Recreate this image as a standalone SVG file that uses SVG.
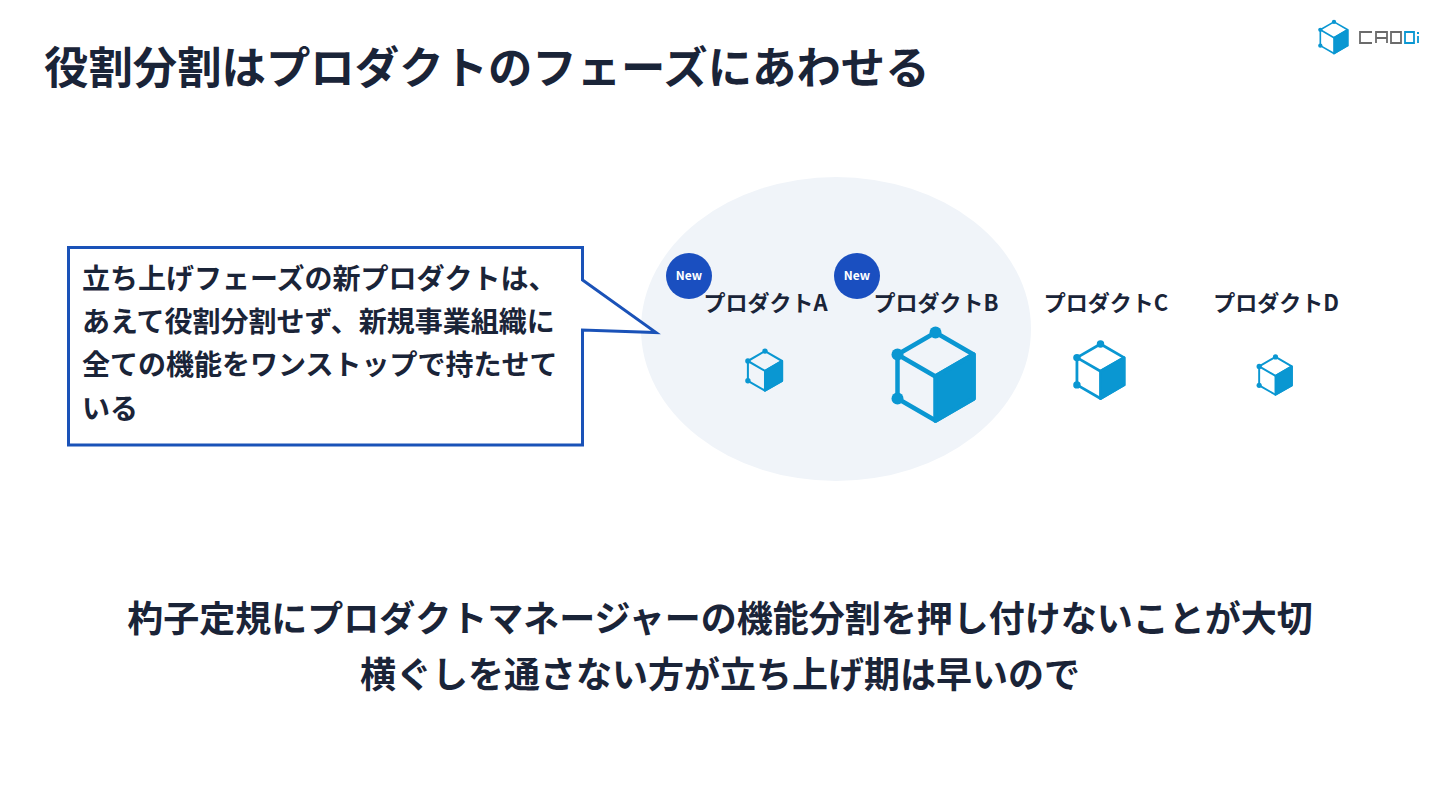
<svg xmlns="http://www.w3.org/2000/svg" width="1440" height="810" viewBox="0 0 1440 810">
<style>
text{font-family:"Noto Sans CJK JP","Noto Sans",sans-serif;font-weight:700;fill:#1a2438}
.title{font-size:44.4px}
.call{font-size:28px}
.bottom{font-size:36px;text-anchor:middle}
.prod{font-size:22px;text-anchor:middle}
.new{font-size:12px;fill:#fff;text-anchor:middle}
.badge{fill:#1a4fc0}
</style>
<defs>
<g id="cube">
<path d="M0-42 38-20V24L0 46-38 24V-20Z" fill="none" stroke="#0a97d2" stroke-width="4.500" stroke-linejoin="round"/>
<path d="M-38-20 0 2 38-20" fill="none" stroke="#0a97d2" stroke-width="4.500" stroke-linejoin="round"/>
<path d="M0 2 38-20V24L0 46Z" fill="#0a97d2" stroke="#0a97d2" stroke-width="4.500" stroke-linejoin="round"/>
<circle cx="0" cy="-42" r="6" fill="#0a97d2"/>
<circle cx="-38" cy="-20" r="6" fill="#0a97d2"/>
<circle cx="-38" cy="24" r="6" fill="#0a97d2"/>
</g>
</defs>
<rect width="1440" height="810" fill="#fff"/>
<g id="logo">
<use href="#cube" transform="translate(1334 37) scale(.36)"/>
<g fill="none" stroke-width="1.800">
<path d="M1372 32H1360V43H1372M1376 43V32H1387V43M1376 38H1387" stroke="#6b6b6b"/>
<path d="M1391 32H1401V43H1391Z" stroke="#6b6b6b"/>
<path d="M1405 32H1414V43H1405Z" stroke="#0a97d2"/>
<path d="M1418 36V43" stroke="#0a97d2"/>
</g>
<rect x="1417" y="32" width="2" height="2" fill="#0a97d2"/>
</g>
<text class="title" x="44" y="84">役割分割はプロダクトのフェーズにあわせる</text>
<ellipse id="phase-ellipse" cx="836" cy="329" rx="195" ry="152" fill="#f0f4f9"/>
<g id="connectors"></g>
<g id="callout">
<path d="M68.500 247.500H582.500V280L656 332.500 582.500 330V445H68.500Z" fill="#fff" stroke="#1a52b8" stroke-width="3"/>
<text class="call" x="82" y="289">立ち上げフェーズの新プロダクトは、</text>
<text class="call" x="82" y="332">あえて役割分割せず、新規事業組織に</text>
<text class="call" x="82" y="375">全ての機能をワンストップで持たせて</text>
<text class="call" x="82" y="419">いる</text>
</g>
<g id="product-a">
<circle class="badge" cx="689" cy="276" r="23"/>
<text class="new" x="689" y="280">New</text>
<text class="prod" x="765.500" y="311">プロダクトA</text>
<use href="#cube" transform="translate(765 370) scale(.45)"/>
</g>
<g id="product-b">
<circle class="badge" cx="857" cy="276" r="23"/>
<text class="new" x="857" y="280">New</text>
<text class="prod" x="936" y="311">プロダクトB</text>
<use href="#cube" transform="translate(935.500 374.500)"/>
</g>
<g id="product-c">
<text class="prod" x="1106" y="311">プロダクトC</text>
<use href="#cube" transform="translate(1100.500 370) scale(.62)"/>
</g>
<g id="product-d">
<text class="prod" x="1276" y="311">プロダクトD</text>
<use href="#cube" transform="translate(1275.500 375) scale(.43)"/>
</g>
<text class="bottom" x="720" y="631.500">杓子定規にプロダクトマネージャーの機能分割を押し付けないことが大切</text>
<text class="bottom" x="720" y="688">横ぐしを通さない方が立ち上げ期は早いので</text>
</svg>
